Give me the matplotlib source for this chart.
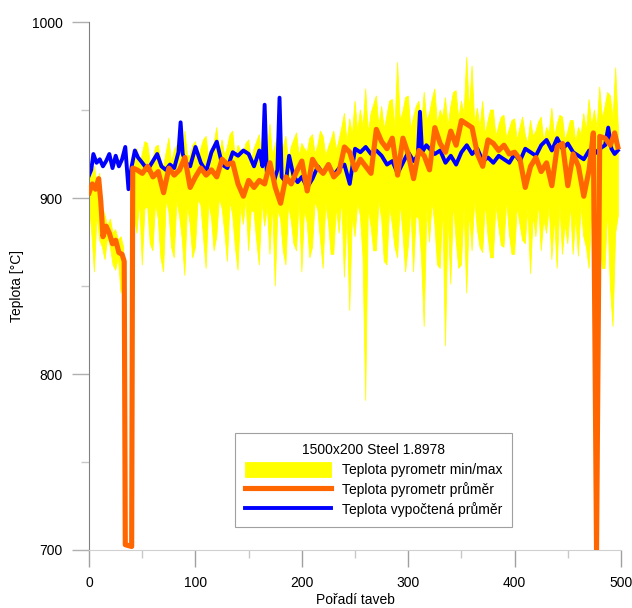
import numpy as np
import matplotlib
matplotlib.use("Agg")
import matplotlib.pyplot as plt
from matplotlib.ticker import MultipleLocator

plt.rcParams['font.family'] = ['Liberation Sans', 'DejaVu Sans']
plt.rcParams['font.size'] = 10

nan = np.nan

# pyrometer min / max (read every 2.5 heats)
heat = np.arange(0, 500, 2.5)
t_max = [915, 912, 918, 908, 914, 895, 890, 884, 888, 880, 882, 876, 878, 872, nan, nan, nan, 925, 928, 918,
         925, 932, 931, 920, 922, 929, 930, 921, 918, 926, 934, 920, 927, 930, 926, 921, 938, 924, 924, 930,
         932, 921, 928, 933, 935, 922, 927, 931, 940, 925, 933, 924, 929, 936, 938, 922, 930, 927, 925, 931,
         933, 921, 928, 932, 936, 923, 931, 926, 942, 924, 930, 936, 925, 929, 935, 921, 929, 933, 937, 924,
         931, 928, 926, 934, 936, 925, 930, 938, 935, 924, 929, 933, 938, 927, 933, 940, 948, 932, 945, 936,
         955, 938, 950, 940, 962, 937, 948, 953, 958, 941, 952, 939, 947, 955, 956, 940, 977, 944, 949, 957,
         958, 939, 946, 952, 955, 941, 960, 944, 948, 956, 962, 942, 950, 946, 957, 941, 952, 960, 961, 945,
         955, 948, 980, 950, 975, 943, 951, 940, 955, 936, 944, 950, 950, 935, 941, 946, 947, 934, 939, 944,
         945, 933, 940, 946, 936, 931, 944, 935, 938, 943, 946, 932, 940, 937, 951, 935, 942, 947, 946, 933,
         938, 944, 944, 932, 940, 936, 948, 938, 956, 941, 950, 940, 963, 945, 952, 960, 958, 945, 974, 940]
t_min = [898, 880, 858, 890, 876, 872, 865, 878, 872, 862, 859, 866, 846, 858, nan, nan, nan, 890, 880, 898,
         862, 894, 895, 874, 870, 897, 888, 866, 858, 899, 892, 872, 866, 898, 890, 877, 856, 896, 885, 866,
         872, 899, 896, 878, 860, 897, 889, 870, 878, 900, 894, 881, 864, 898, 890, 872, 859, 895, 885, 899,
         870, 893, 892, 876, 862, 898, 884, 895, 868, 897, 850, 893, 888, 870, 862, 896, 887, 874, 870, 899,
         858, 893, 886, 866, 872, 898, 893, 876, 860, 897, 886, 868, 868, 895, 880, 899, 855, 892, 836, 890,
         878, 897, 890, 866, 785, 894, 884, 870, 870, 898, 888, 864, 862, 895, 885, 872, 866, 897, 880, 858,
         872, 894, 858, 890, 888, 866, 827, 893, 875, 898, 885, 862, 860, 895, 816, 890, 851, 897, 876, 860,
         862, 894, 846, 892, 870, 899, 882, 872, 869, 897, 878, 866, 866, 896, 884, 873, 872, 899, 880, 868,
         868, 895, 885, 876, 874, 894, 857, 890, 878, 897, 870, 888, 880, 895, 865, 889, 860, 896, 868, 885,
         874, 896, 868, 889, 867, 895, 878, 872, 860, 892, 872, 897, 880, 860, 860, 893, 850, 827, 880, 890]

# pyrometer average
avg_x = [0, 3, 6, 9, 11, 13, 16, 19, 22, 25, 28, 31, 33, 34, 40, 41, 45,
         50, 55, 60, 65, 70, 75, 80, 85, 90, 95, 100, 105, 110, 115, 120,
         125, 130, 135, 140, 145, 150, 155, 160, 165, 170, 175, 180, 185,
         190, 195, 200, 205, 210, 215, 220, 225, 230, 235, 240, 245, 250,
         255, 260, 265, 270, 275, 280, 285, 290, 295, 300, 305, 310, 315,
         320, 325, 330, 335, 340, 345, 350, 355, 360, 365, 370, 375, 380,
         385, 390, 395, 400, 405, 410, 415, 420, 425, 430, 435, 440, 445,
         450, 455, 460, 465, 470, 474, 477, 480, 485, 490, 494, 497]
avg_t = [903, 908, 905, 911, 898, 878, 884, 880, 874, 876, 869, 868, 864, 703, 702, 917, 916,
         914, 918, 912, 915, 903, 917, 913, 916, 923, 906, 912, 917, 913, 916, 912,
         922, 919, 920, 908, 901, 910, 906, 910, 908, 920, 906, 897, 912,
         908, 915, 921, 904, 922, 917, 914, 919, 912, 915, 929, 926, 916,
         922, 918, 914, 939, 932, 928, 934, 913, 934, 925, 911, 927, 924,
         916, 940, 931, 926, 938, 930, 944, 942, 940, 925, 918, 933, 931,
         927, 930, 925, 926, 922, 906, 918, 923, 915, 920, 907, 929, 931,
         907, 925, 918, 901, 916, 937, 700, 935, 934, 930, 937, 929]

# calculated average
calc_x = [0, 2, 4, 7, 10, 13, 16, 19, 22, 25, 28, 31, 34, 37, 40, 43, 46,
          50, 55, 60, 64, 68, 72, 76, 80, 84, 86, 88, 91, 95, 100, 105, 110,
          115, 120, 125, 130, 135, 140, 145, 150, 155, 160, 163, 165, 167,
          170, 174, 177, 179, 181, 185, 188, 192, 196, 200, 205, 210, 215,
          220, 225, 230, 235, 240, 245, 250, 255, 260, 265, 270, 275, 280,
          285, 290, 295, 300, 305, 309, 311, 313, 317, 320, 325, 330, 335,
          340, 345, 350, 355, 360, 365, 370, 375, 380, 385, 390, 395, 400,
          405, 410, 415, 420, 425, 430, 435, 440, 445, 450, 455, 460, 465,
          470, 475, 480, 485, 488, 491, 494, 497]
calc_t = [913, 916, 925, 920, 922, 918, 921, 925, 917, 924, 918, 922, 929, 905, 918, 927, 923,
          920, 916, 921, 925, 918, 916, 919, 917, 926, 943, 925, 920, 918, 929, 920, 915,
          926, 932, 919, 917, 926, 924, 927, 925, 918, 927, 918, 953, 915,
          918, 910, 916, 957, 912, 909, 924, 913, 909, 912, 906, 911, 918,
          914, 919, 913, 917, 919, 908, 928, 926, 929, 925, 927, 924, 919,
          921, 914, 920, 926, 921, 924, 949, 926, 930, 928, 925, 927, 920,
          924, 919, 926, 930, 925, 928, 921, 923, 920, 924, 922, 920, 925,
          921, 928, 926, 924, 930, 933, 927, 934, 928, 931, 926, 924, 922,
          927, 925, 928, 930, 940, 928, 925, 927]

fig = plt.figure(figsize=(6.32, 6.08), dpi=100)
ax = fig.add_axes([0.141, 0.0954, 0.8416, 0.8684])

ax.fill_between(heat, t_min, t_max, color='#FFFF00', lw=0.6, edgecolor='#FFFF00',
                label='Teplota pyrometr min/max', zorder=1)
ax.plot(calc_x, calc_t, color='#0000FF', lw=2.8, label='Teplota vypočtená průměr', zorder=2)
ax.plot(avg_x, avg_t, color='#FF6600', lw=3.7, label='Teplota pyrometr průměr', zorder=3)

ax.set_xlim(0, 500)
ax.set_ylim(700, 1000)
ax.xaxis.set_major_locator(MultipleLocator(100))
ax.xaxis.set_minor_locator(MultipleLocator(50))
ax.yaxis.set_major_locator(MultipleLocator(100))
ax.yaxis.set_minor_locator(MultipleLocator(50))

for s in ['top', 'right']:
    ax.spines[s].set_visible(False)
ax.spines['left'].set_color('#808080')
ax.spines['bottom'].set_color('#d0d0d0')
ax.tick_params(which='major', length=12, width=1, color='#a0a0a0', pad=7)
ax.tick_params(which='minor', length=6, width=1, color='#c8c8c8')
ax.tick_params(axis='y', which='major', color='#b0b0b0')

ax.set_xlabel('Pořadí taveb', labelpad=2)
ax.set_ylabel('Teplota [°C]', labelpad=6)

handles, labels = ax.get_legend_handles_labels()
order = [0, 2, 1]
leg = ax.legend([handles[i] for i in order], [labels[i] for i in order],
                title='1500x200 Steel 1.8978', loc='lower left',
                bbox_to_anchor=(0.274, 0.044), borderaxespad=0,
                handlelength=6.2, handleheight=1.3, fancybox=False,
                edgecolor='#a0a0a0', framealpha=1, fontsize=10,
                title_fontsize=10, labelspacing=0.35, borderpad=0.7)
leg.get_frame().set_linewidth(0.8)

fig.savefig('out.png', dpi=100)
